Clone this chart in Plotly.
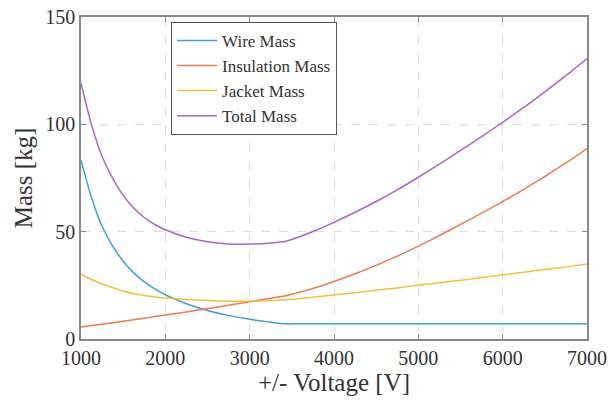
import plotly.graph_objects as go

voltage = [1000, 1125, 1250, 1375, 1500, 1625, 1750, 1875, 2000, 2250, 2500, 2750,
           3000, 3250, 3430, 3500, 3750, 4000, 4250, 4500, 4750, 5000, 5250, 5500,
           5750, 6000, 6250, 6500, 6750, 7000]

wire_mass = [83.3, 65.8, 52.5, 43.3, 36.2, 30.8, 26.6, 23.3, 20.6, 16.4, 13.3, 11.0,
             9.2, 7.85, 7.05, 7.05, 7.05, 7.05, 7.05, 7.05, 7.05, 7.05, 7.05, 7.05,
             7.05, 7.05, 7.05, 7.05, 7.05, 7.05]

insulation_mass = [5.6, 6.25, 6.9, 7.6, 8.3, 9.0, 9.7, 10.45, 11.2, 12.6, 14.1, 15.7,
                   17.4, 19.0, 20.2, 20.8, 23.5, 26.8, 30.4, 34.3, 38.6, 43.3, 48.2, 53.4,
                   58.6, 64.0, 69.7, 75.7, 82.0, 88.7]

jacket_mass = [30.2, 27.7, 25.6, 23.9, 22.4, 21.2, 20.3, 19.6, 19.1, 18.4, 17.9, 17.6,
               17.6, 17.9, 18.3, 18.5, 19.5, 20.5, 21.6, 22.7, 23.8, 25.0, 26.2, 27.4,
               28.6, 29.9, 31.1, 32.4, 33.6, 34.9]

total_mass = [119.1, 99.75, 85.0, 74.8, 66.9, 61.0, 56.6, 53.35, 50.9, 47.4, 45.3, 44.3,
              44.2, 44.75, 45.55, 46.35, 50.05, 54.35, 59.05, 64.05, 69.45, 75.35, 81.45, 87.85,
              94.25, 100.95, 107.85, 115.15, 122.65, 130.65]

series_names = ["Wire Mass", "Insulation Mass", "Jacket Mass", "Total Mass"]
series_values = [wire_mass, insulation_mass, jacket_mass, total_mass]
series_colors = ["#3fa0da", "#ec7a52", "#f0bf3c", "#a866c4"]

x_ticks = [1000, 2000, 3000, 4000, 5000, 6000, 7000]
y_ticks = [0, 50, 100, 150]

fig = go.Figure()
for name, vals, col in zip(series_names, series_values, series_colors):
    fig.add_trace(go.Scatter(x=voltage, y=vals, mode="lines", name=name,
                             line=dict(color=col, width=1.5, shape="spline", smoothing=0.6)))

font_family = "Liberation Serif, Times New Roman, serif"
axis_common = dict(
    showline=True, linecolor="#8a8a8a", linewidth=1.5, mirror="ticks",
    ticks="inside", ticklen=5, tickcolor="#8a8a8a", tickwidth=1,
    showgrid=True, gridcolor="#dcdcdc", gridwidth=1, griddash="dash",
    zeroline=False, automargin=False,
    tickfont=dict(family=font_family, size=20, color="#333333"),
)

fig.update_layout(
    width=612, height=405,
    margin=dict(l=81, r=25, t=17, b=66),
    paper_bgcolor="white", plot_bgcolor="white",
    font=dict(family=font_family, color="#333333"),
    xaxis=dict(range=[1000, 7000], tickvals=x_ticks,
               title=dict(text="+/- Voltage [V]", font=dict(size=25, family=font_family, color="#333333"), standoff=4),
               **axis_common),
    yaxis=dict(range=[0, 150], tickvals=y_ticks,
               title=dict(text="Mass [kg]", font=dict(size=25, family=font_family, color="#333333"), standoff=6),
               **axis_common),
    legend=dict(x=0.178, y=0.985, xanchor="left", yanchor="top",
                bgcolor="white", bordercolor="#555555", borderwidth=1,
                font=dict(family=font_family, size=17, color="#333333"),
                tracegroupgap=0, itemwidth=40),
    showlegend=True,
)

# remove the default 8px page margin so the figure fills the window exactly
fig.write_html("out.html", config={"displayModeBar": False},
               post_script="document.body.style.margin='0';")
